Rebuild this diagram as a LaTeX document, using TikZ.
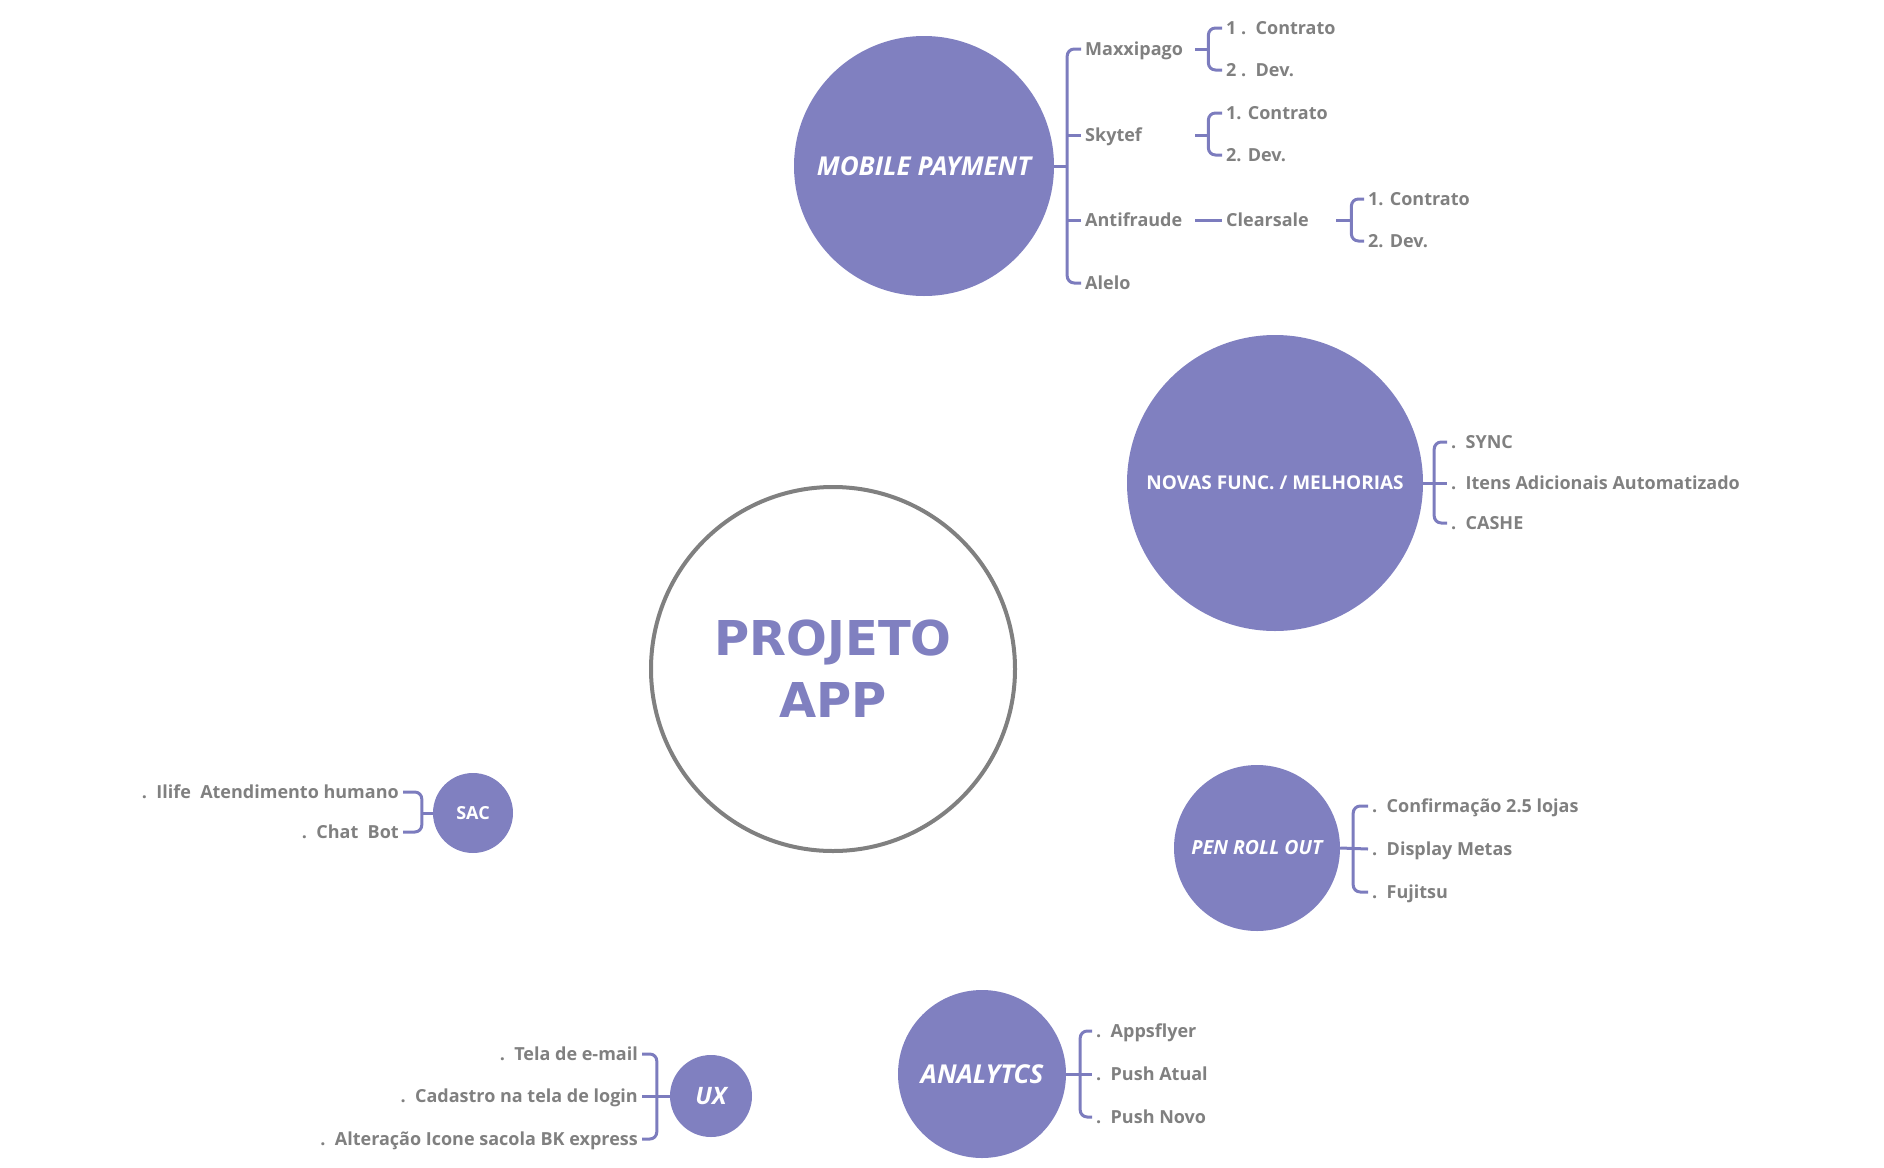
\documentclass[tikz,border=0pt]{standalone}
\usepackage{fontspec}
\setmainfont{Open Sans}
\newfontfamily\titlefont{DejaVu Sans}
\usetikzlibrary{positioning}
\definecolor{hubc}{RGB}{128,128,192}
\definecolor{linkc}{RGB}{124,124,190}
\definecolor{leafc}{RGB}{128,128,128}
\definecolor{ringc}{RGB}{128,128,128}
\begin{document}
\begin{tikzpicture}[x=1pt,y=-1pt,
    hub/.style={circle,fill=hubc,text=white,inner sep=0pt},
    link/.style={draw=linkc,line width=3pt,rounded corners=7pt},
    leaf/.style={anchor=west,text=leafc,inner xsep=4pt,inner ysep=0pt,text height=13pt,text depth=0pt,font=\bfseries\fontsize{18}{20}\selectfont},
    leafr/.style={leaf,anchor=east},
    sub/.style={leaf,text width=106pt}]
    \useasboundingbox (0,0) rectangle (1884,1167);

    \node[circle,draw=ringc,line width=4pt,fill=white,minimum size=364pt,inner sep=0pt,text=hubc,align=center,font=\titlefont\bfseries\fontsize{48}{62}\selectfont] (app) at (833,669) {PROJETO\\APP};

    \node[hub,minimum size=260pt,font=\bfseries\itshape\fontsize{26}{30}\selectfont] (mp) at (924,166) {MOBILE PAYMENT};
    \node[sub] (maxx) at (1081,49) {Maxxipago};
    \node[sub] (sky) at (1081,135) {Skytef};
    \node[sub] (anti) at (1081,220) {Antifraude};
    \node[leaf] (alelo) at (1081,283) {Alelo};
    \node[leaf] (mx1) at (1222,28) {1 .\ \ Contrato};
    \node[leaf] (mx2) at (1222,70) {2 .\ \ Dev.};
    \node[leaf] (sk1) at (1222,113) {1. Contrato};
    \node[leaf] (sk2) at (1222,155) {2. Dev.};
    \node[sub] (clear) at (1222,220) {Clearsale};
    \node[leaf] (cl1) at (1364,199) {1. Contrato};
    \node[leaf] (cl2) at (1364,241) {2. Dev.};
    \coordinate[right=13pt of mp.east] (mpv);
    \coordinate[right=13pt of maxx.east] (maxxv);
    \coordinate[right=13pt of sky.east] (skyv);
    \coordinate[right=15pt of clear.east] (clearv);
    \draw[link] (mp.east) -- (mpv);
    \draw[link] (maxx.west) -| (mpv) |- (alelo.west);
    \draw[link] (sky.west) -- (sky.west -| mpv);
    \draw[link] (anti.west) -- (anti.west -| mpv);
    \draw[link] (maxx.east) -- (maxxv);
    \draw[link] (mx1.west) -| (maxxv) |- (mx2.west);
    \draw[link] (sky.east) -- (skyv);
    \draw[link] (sk1.west) -| (skyv) |- (sk2.west);
    \draw[link] (anti.east) -- (clear.west);
    \draw[link] (clear.east) -- (clearv);
    \draw[link] (cl1.west) -| (clearv) |- (cl2.west);

    \node[hub,minimum size=296pt,font=\bfseries\fontsize{19}{23}\selectfont] (nf) at (1275,483) {NOVAS FUNC. / MELHORIAS};
    \node[leaf] (nf1) at (1447,442) {.\ \ SYNC};
    \node[leaf] (nf2) at (1447,483) {.\ \ Itens Adicionais Automatizado};
    \node[leaf] (nf3) at (1447,523) {.\ \ CASHE};
    \coordinate[right=11pt of nf.east] (nfv);
    \draw[link] (nf.east) -- (nf2.west);
    \draw[link] (nf1.west) -| (nfv) |- (nf3.west);

    \node[hub,minimum size=166pt,font=\bfseries\itshape\fontsize{19.5}{22}\selectfont] (pr) at (1257,848) {PEN ROLL OUT};
    \node[leaf] (pr1) at (1368,806) {.\ \ Confirmação 2.5 lojas};
    \node[leaf] (pr2) at (1368,849) {.\ \ Display Metas};
    \node[leaf] (pr3) at (1368,892) {.\ \ Fujitsu};
    \coordinate[right=13pt of pr.east] (prv);
    \draw[link] (pr.east) -- (pr2.west);
    \draw[link] (pr1.west) -| (prv) |- (pr3.west);

    \node[hub,minimum size=168pt,font=\bfseries\itshape\fontsize{26}{30}\selectfont] (an) at (982,1074) {ANALYTCS};
    \node[leaf] (an1) at (1092,1031) {.\ \ Appsflyer};
    \node[leaf] (an2) at (1092,1074) {.\ \ Push Atual};
    \node[leaf] (an3) at (1092,1117) {.\ \ Push Novo};
    \coordinate[right=14pt of an.east] (anv);
    \draw[link] (an.east) -- (an2.west);
    \draw[link] (an1.west) -| (anv) |- (an3.west);

    \node[hub,minimum size=80pt,font=\bfseries\fontsize{18}{22}\selectfont] (sac) at (473,813) {SAC};
    \node[leafr] (sac1) at (403,792) {.\ \ Ilife\ \ Atendimento humano};
    \node[leafr] (sac2) at (403,832) {.\ \ Chat\ \ Bot};
    \coordinate[left=11pt of sac.west] (sacv);
    \draw[link] (sac.west) -- (sacv);
    \draw[link] (sac1.east) -| (sacv) |- (sac2.east);

    \node[hub,minimum size=82pt,font=\bfseries\itshape\fontsize{24}{28}\selectfont] (ux) at (711,1096) {UX};
    \node[leafr] (ux1) at (642,1054) {.\ \ Tela de e-mail};
    \node[leafr] (ux2) at (642,1096) {.\ \ Cadastro na tela de login};
    \node[leafr] (ux3) at (642,1139) {.\ \ Alteração Icone sacola BK express};
    \coordinate[left=13pt of ux.west] (uxv);
    \draw[link] (ux.west) -- (ux2.east);
    \draw[link] (ux1.east) -| (uxv) |- (ux3.east);
\end{tikzpicture}
\end{document}
